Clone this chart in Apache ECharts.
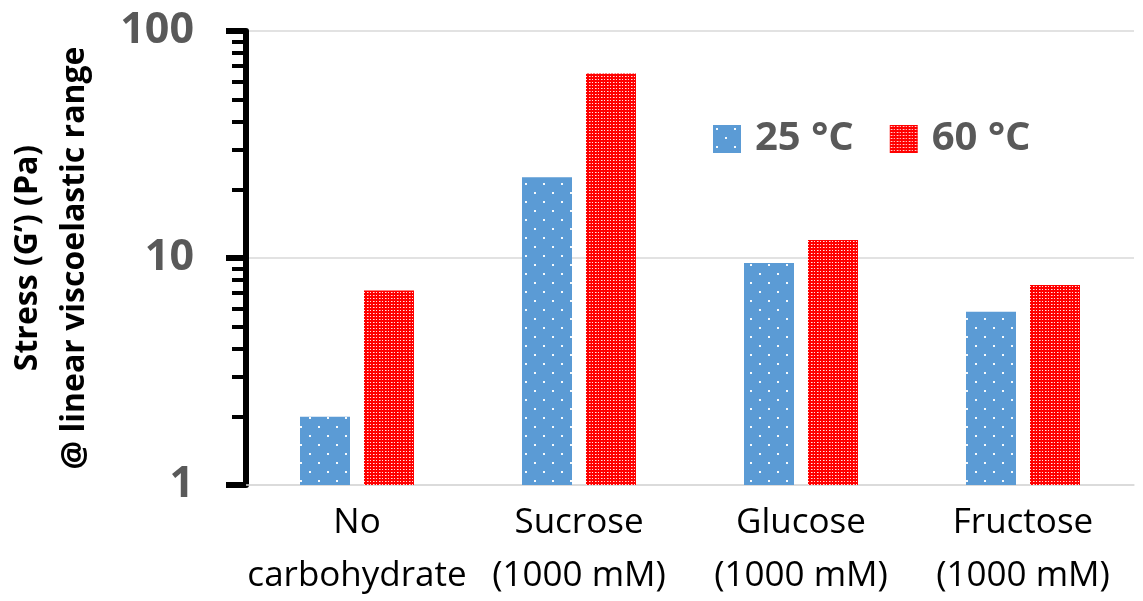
<!DOCTYPE html>
<html>
<head>
<meta charset="utf-8">
<script src="https://cdn.jsdelivr.net/npm/echarts@6/dist/echarts.min.js"></script>
<style>
  html, body { margin: 0; padding: 0; background: #ffffff; }
  #chart { width: 1143px; height: 601px; }
</style>
</head>
<body>
<div id="chart"></div>
<script>
// Sample groups and measured yield stress (Pa) at the two temperatures
const categories = ['No\ncarbohydrate', 'Sucrose\n(1000 mM)', 'Glucose\n(1000 mM)', 'Fructose\n(1000 mM)'];
const seriesNames = ['25 °C', '60 °C'];
const stress25C = [2.0, 22.7, 9.5, 5.8];
const stress60C = [7.2, 65, 12.0, 7.6];
// Log-axis decades and the in-between minor ticks
const majorTicks = [1, 10, 100];
const minorTicks = [2, 3, 4, 5, 6, 7, 8, 9, 20, 30, 40, 50, 60, 70, 80, 90];

// Fill textures for the bars
function blueDots() {
  const c = document.createElement('canvas');
  c.width = 18; c.height = 18;
  const g = c.getContext('2d');
  g.fillStyle = '#5B9BD5';
  g.fillRect(0, 0, 18, 18);
  g.fillStyle = 'rgba(255,255,255,0.95)';
  g.fillRect(3, 3, 2, 2);
  g.fillRect(12, 12, 2, 2);
  return c;
}
function redGrid() {
  const c = document.createElement('canvas');
  c.width = 6; c.height = 3;
  const g = c.getContext('2d');
  g.fillStyle = '#FF0000';
  g.fillRect(0, 0, 6, 3);
  g.fillStyle = 'rgba(255,255,255,0.9)';
  g.fillRect(1, 1, 1, 1);
  g.fillRect(4, 1, 1, 1);
  g.fillStyle = 'rgba(255,210,210,0.6)';
  g.fillRect(2, 1, 1, 1);
  return c;
}

const FONT = '"Open Sans", "Liberation Sans", sans-serif';
const chart = echarts.init(document.getElementById('chart'), null, { renderer: 'canvas' });

chart.setOption({
  animation: false,
  backgroundColor: '#ffffff',
  grid: { left: 246, right: 9, top: 31, bottom: 116, containLabel: false, outerBoundsMode: 'none' },
  legend: {
    data: seriesNames,
    left: 713,
    top: 119,
    padding: 0,
    icon: 'rect',
    itemWidth: 28,
    itemHeight: 28,
    itemGap: 36,
    textStyle: { fontFamily: FONT, fontSize: 40, fontWeight: 'bold', color: '#595959', lineHeight: 40, padding: [0, 0, 0, 9] }
  },
  xAxis: {
    type: 'category',
    data: categories,
    axisLine: { show: true, lineStyle: { color: '#d9d9d9', width: 1.5 } },
    axisTick: { show: false },
    axisLabel: { fontFamily: FONT, fontSize: 35, color: '#000000', lineHeight: 53, margin: 12, interval: 0 }
  },
  yAxis: [
    {
      type: 'log',
      logBase: 10,
      min: 1,
      max: 100,
      name: 'Stress (G’) (Pa)\n@ linear viscoelastic range',
      nameLocation: 'middle',
      nameRotate: 90,
      nameGap: 148,
      nameTextStyle: { fontFamily: FONT, fontSize: 32, fontWeight: 'bold', color: '#000000', lineHeight: 47 },
      axisLine: { show: true, lineStyle: { color: '#000000', width: 6 } },
      axisTick: { show: true, customValues: majorTicks, length: 20, lineStyle: { color: '#000000', width: 6 } },
      axisLabel: { customValues: majorTicks, fontFamily: FONT, fontSize: 43, fontWeight: 'bold', color: '#595959', margin: 52 },
      splitLine: { show: true, lineStyle: { color: '#d9d9d9', width: 1.5 } }
    },
    {
      type: 'log',
      logBase: 10,
      min: 1,
      max: 100,
      position: 'left',
      axisLine: { show: false },
      axisTick: { show: true, customValues: minorTicks, length: 14, lineStyle: { color: '#000000', width: 4 } },
      axisLabel: { show: false },
      splitLine: { show: false }
    }
  ],
  series: [
    {
      name: seriesNames[0],
      type: 'bar',
      yAxisIndex: 0,
      data: stress25C,
      barWidth: 50,
      barGap: '28%',
      itemStyle: { color: { image: blueDots(), repeat: 'repeat' } }
    },
    {
      name: seriesNames[1],
      type: 'bar',
      yAxisIndex: 0,
      data: stress60C,
      barWidth: 50,
      barGap: '28%',
      itemStyle: { color: { image: redGrid(), repeat: 'repeat' } }
    }
  ]
});
</script>
</body>
</html>
